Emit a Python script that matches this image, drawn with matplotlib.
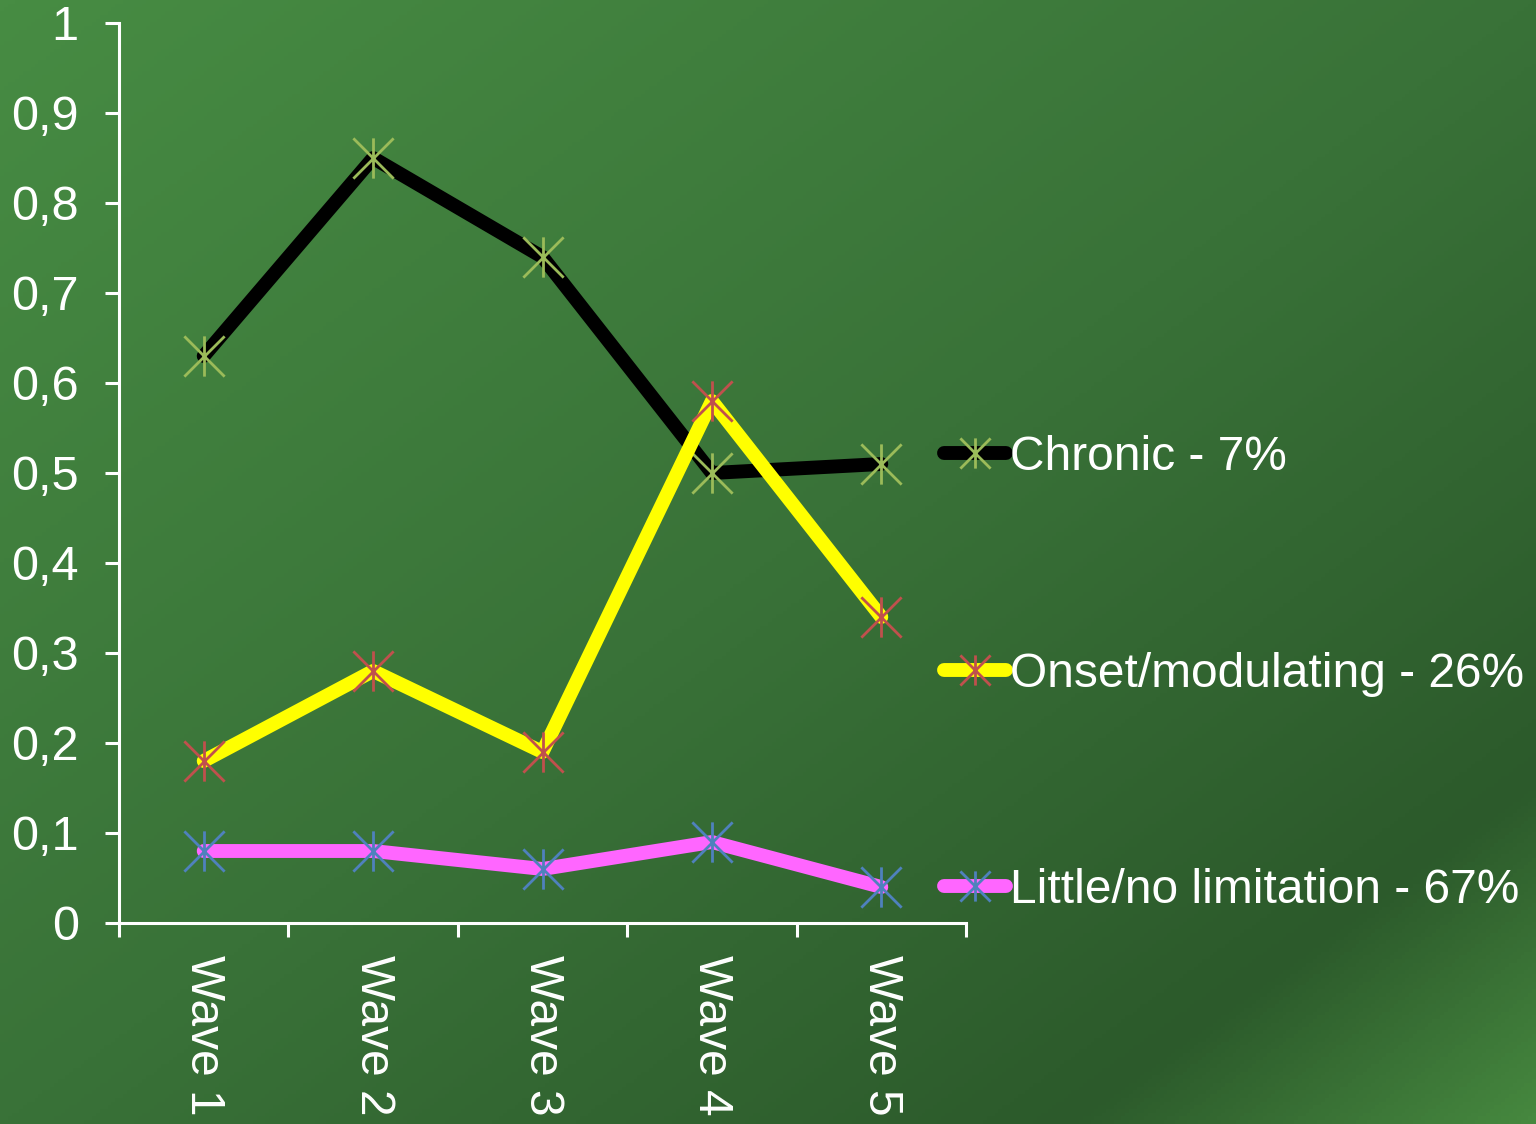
import numpy as np
import matplotlib
matplotlib.use("Agg")
import matplotlib.pyplot as plt
from matplotlib.path import Path
from matplotlib.colors import LinearSegmentedColormap
from matplotlib.ticker import FuncFormatter

plt.rcParams['font.family'] = ['Liberation Sans', 'DejaVu Sans']

waves = ["Wave 1", "Wave 2", "Wave 3", "Wave 4", "Wave 5"]
chronic = [0.63, 0.85, 0.74, 0.50, 0.51]
onset = [0.18, 0.28, 0.19, 0.58, 0.34]
little = [0.08, 0.08, 0.06, 0.09, 0.04]

labels = ["Chronic - 7%", "Onset/modulating - 26%", "Little/no limitation - 67%"]
line_colors = ["#000000", "#ffff00", "#ff66ff"]
marker_colors = ["#9bbb59", "#c0504d", "#4f81bd"]

# excel style star marker: X with a vertical bar
star = Path([(0, -1), (0, 1), (-1, -1), (1, 1), (-1, 1), (1, -1)],
            [Path.MOVETO, Path.LINETO, Path.MOVETO, Path.LINETO, Path.MOVETO, Path.LINETO])

fig = plt.figure(figsize=(15.36, 11.24), dpi=100)

# background gradient
bg = fig.add_axes([0, 0, 1, 1], zorder=-10)
yy, xx = np.mgrid[0:1:300j, 0:1:400j]
t = (xx + yy) / 2
cmap = LinearSegmentedColormap.from_list(
    "bg", [(0.0, "#478c43"), (0.5, "#397238"), (0.85, "#2c5a2b"), (1.0, "#46883f")])
bg.imshow(t, cmap=cmap, aspect="auto", extent=[0, 1, 0, 1], origin="upper", vmin=0, vmax=1)
bg.axis("off")

ax = fig.add_axes([119 / 1536, 1 - 923 / 1124, (966 - 119) / 1536, 900 / 1124])
ax.patch.set_alpha(0)

x = np.arange(1, 6)
for vals, lab, lc, mc in zip([chronic, onset, little], labels, line_colors, marker_colors):
    ax.plot(x, vals, color=lc, lw=10, solid_capstyle="round", solid_joinstyle="round",
            marker=star, markersize=29, markeredgecolor=mc, markeredgewidth=2.0,
            markerfacecolor="none", label=lab)

ax.set_xlim(0.5, 5.5)
ax.set_ylim(0, 1)
ax.set_yticks(np.arange(0, 1.01, 0.1))
ax.yaxis.set_major_formatter(FuncFormatter(
    lambda v, p: "0" if abs(v) < 1e-9 else ("1" if abs(v - 1) < 1e-9 else f"{v:.1f}".replace(".", ","))))
ax.set_xticks(x)
ax.set_xticklabels(waves, rotation=-90, va="top", ha="center")
ax.set_xticks(np.arange(0.5, 5.6, 1), minor=True)

for s in ["top", "right"]:
    ax.spines[s].set_visible(False)
for s in ["left", "bottom"]:
    ax.spines[s].set_color("white")
    ax.spines[s].set_linewidth(2.2)

ax.tick_params(axis="y", colors="white", length=10, width=2.2, labelsize=35, pad=19)
ax.tick_params(axis="x", which="major", colors="white", length=0, labelsize=34.5, pad=23)
ax.tick_params(axis="x", which="minor", colors="white", length=10, width=2.2)

leg = fig.legend(loc="center left", bbox_to_anchor=(944 / 1536, 1 - 674 / 1124),
                 frameon=False, fontsize=34.5, labelcolor="white", labelspacing=3.575,
                 handlelength=1.3, handletextpad=0.08, markerscale=0.75,
                 borderpad=0, borderaxespad=0)

fig.savefig("out.png", dpi=100)
